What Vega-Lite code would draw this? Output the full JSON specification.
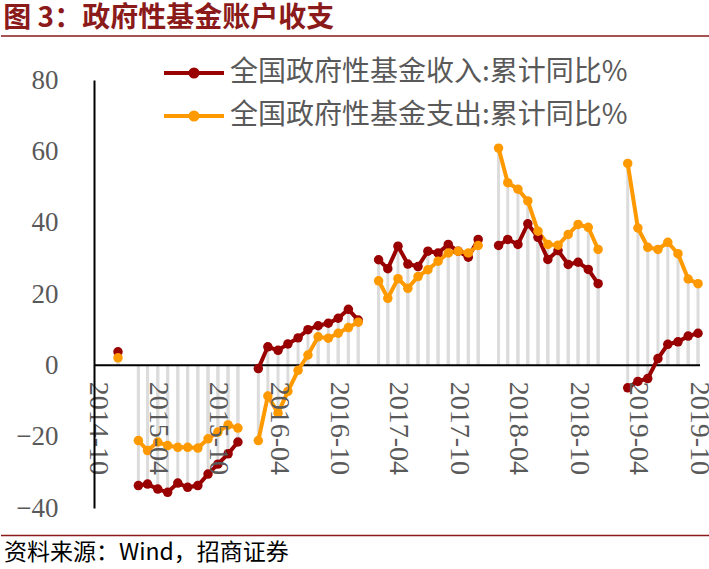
{
  "$schema": "https://vega.github.io/schema/vega-lite/v6.json",
  "padding": {"left": 0, "top": 5, "right": 0, "bottom": 0},
  "autosize": {"type": "pad"},
  "background": "white",
  "title": {"text": "图 3：政府性基金账户收支", "anchor": "start", "frame": "bounds", "font": "Noto Sans CJK SC", "fontSize": 28, "fontWeight": "bold", "color": "#8B1A1A", "offset": 2, "dx": 3},
  "datasets": {
    "fund": [
      {"month": "2014-12-01", "全国政府性基金收入:累计同比%": 3.8, "全国政府性基金支出:累计同比%": 2.1},
      {"month": "2015-01-01", "全国政府性基金收入:累计同比%": null, "全国政府性基金支出:累计同比%": null},
      {"month": "2015-02-01", "全国政府性基金收入:累计同比%": -33.7, "全国政府性基金支出:累计同比%": -21.1},
      {"month": "2015-03-01", "全国政府性基金收入:累计同比%": -33.3, "全国政府性基金支出:累计同比%": -23.9},
      {"month": "2015-04-01", "全国政府性基金收入:累计同比%": -34.7, "全国政府性基金支出:累计同比%": -21.5},
      {"month": "2015-05-01", "全国政府性基金收入:累计同比%": -35.6, "全国政府性基金支出:累计同比%": -22.5},
      {"month": "2015-06-01", "全国政府性基金收入:累计同比%": -33.0, "全国政府性基金支出:累计同比%": -23.0},
      {"month": "2015-07-01", "全国政府性基金收入:累计同比%": -34.2, "全国政府性基金支出:累计同比%": -23.0},
      {"month": "2015-08-01", "全国政府性基金收入:累计同比%": -33.7, "全国政府性基金支出:累计同比%": -23.2},
      {"month": "2015-09-01", "全国政府性基金收入:累计同比%": -30.5, "全国政府性基金支出:累计同比%": -20.6},
      {"month": "2015-10-01", "全国政府性基金收入:累计同比%": -27.7, "全国政府性基金支出:累计同比%": -18.7},
      {"month": "2015-11-01", "全国政府性基金收入:累计同比%": -24.8, "全国政府性基金支出:累计同比%": -16.7},
      {"month": "2015-12-01", "全国政府性基金收入:累计同比%": -21.5, "全国政府性基金支出:累计同比%": -17.6},
      {"month": "2016-01-01", "全国政府性基金收入:累计同比%": null, "全国政府性基金支出:累计同比%": null},
      {"month": "2016-02-01", "全国政府性基金收入:累计同比%": -0.9, "全国政府性基金支出:累计同比%": -21.1},
      {"month": "2016-03-01", "全国政府性基金收入:累计同比%": 5.2, "全国政府性基金支出:累计同比%": -8.6},
      {"month": "2016-04-01", "全国政府性基金收入:累计同比%": 4.2, "全国政府性基金支出:累计同比%": -13.4},
      {"month": "2016-05-01", "全国政府性基金收入:累计同比%": 6.0, "全国政府性基金支出:累计同比%": -7.3},
      {"month": "2016-06-01", "全国政府性基金收入:累计同比%": 7.7, "全国政府性基金支出:累计同比%": -1.4},
      {"month": "2016-07-01", "全国政府性基金收入:累计同比%": 10.0, "全国政府性基金支出:累计同比%": 2.9},
      {"month": "2016-08-01", "全国政府性基金收入:累计同比%": 11.1, "全国政府性基金支出:累计同比%": 8.0},
      {"month": "2016-09-01", "全国政府性基金收入:累计同比%": 11.8, "全国政府性基金支出:累计同比%": 7.6},
      {"month": "2016-10-01", "全国政府性基金收入:累计同比%": 13.2, "全国政府性基金支出:累计同比%": 9.0},
      {"month": "2016-11-01", "全国政府性基金收入:累计同比%": 15.7, "全国政府性基金支出:累计同比%": 10.6},
      {"month": "2016-12-01", "全国政府性基金收入:累计同比%": 12.7, "全国政府性基金支出:累计同比%": 12.1},
      {"month": "2017-01-01", "全国政府性基金收入:累计同比%": null, "全国政府性基金支出:累计同比%": null},
      {"month": "2017-02-01", "全国政府性基金收入:累计同比%": 29.6, "全国政府性基金支出:累计同比%": 23.7},
      {"month": "2017-03-01", "全国政府性基金收入:累计同比%": 27.1, "全国政府性基金支出:累计同比%": 18.8},
      {"month": "2017-04-01", "全国政府性基金收入:累计同比%": 33.4, "全国政府性基金支出:累计同比%": 24.3},
      {"month": "2017-05-01", "全国政府性基金收入:累计同比%": 28.4, "全国政府性基金支出:累计同比%": 21.6},
      {"month": "2017-06-01", "全国政府性基金收入:累计同比%": 27.7, "全国政府性基金支出:累计同比%": 24.9},
      {"month": "2017-07-01", "全国政府性基金收入:累计同比%": 32.0, "全国政府性基金支出:累计同比%": 26.8},
      {"month": "2017-08-01", "全国政府性基金收入:累计同比%": 31.5, "全国政府性基金支出:累计同比%": 29.2},
      {"month": "2017-09-01", "全国政府性基金收入:累计同比%": 33.9, "全国政府性基金支出:累计同比%": 31.5},
      {"month": "2017-10-01", "全国政府性基金收入:累计同比%": 32.0, "全国政府性基金支出:累计同比%": 32.0},
      {"month": "2017-11-01", "全国政府性基金收入:累计同比%": 30.3, "全国政府性基金支出:累计同比%": 31.5},
      {"month": "2017-12-01", "全国政府性基金收入:累计同比%": 35.3, "全国政府性基金支出:累计同比%": 33.6},
      {"month": "2018-01-01", "全国政府性基金收入:累计同比%": null, "全国政府性基金支出:累计同比%": null},
      {"month": "2018-02-01", "全国政府性基金收入:累计同比%": 33.6, "全国政府性基金支出:累计同比%": 60.9},
      {"month": "2018-03-01", "全国政府性基金收入:累计同比%": 35.3, "全国政府性基金支出:累计同比%": 51.2},
      {"month": "2018-04-01", "全国政府性基金收入:累计同比%": 33.9, "全国政府性基金支出:累计同比%": 49.4},
      {"month": "2018-05-01", "全国政府性基金收入:累计同比%": 39.7, "全国政府性基金支出:累计同比%": 46.1},
      {"month": "2018-06-01", "全国政府性基金收入:累计同比%": 35.9, "全国政府性基金支出:累计同比%": 37.6},
      {"month": "2018-07-01", "全国政府性基金收入:累计同比%": 29.7, "全国政府性基金支出:累计同比%": 33.9},
      {"month": "2018-08-01", "全国政府性基金收入:累计同比%": 32.2, "全国政府性基金支出:累计同比%": 33.7},
      {"month": "2018-09-01", "全国政府性基金收入:累计同比%": 28.3, "全国政府性基金支出:累计同比%": 36.7},
      {"month": "2018-10-01", "全国政府性基金收入:累计同比%": 28.9, "全国政府性基金支出:累计同比%": 39.5},
      {"month": "2018-11-01", "全国政府性基金收入:累计同比%": 26.9, "全国政府性基金支出:累计同比%": 38.7},
      {"month": "2018-12-01", "全国政府性基金收入:累计同比%": 22.9, "全国政府性基金支出:累计同比%": 32.5},
      {"month": "2019-01-01", "全国政府性基金收入:累计同比%": null, "全国政府性基金支出:累计同比%": null},
      {"month": "2019-02-01", "全国政府性基金收入:累计同比%": null, "全国政府性基金支出:累计同比%": null},
      {"month": "2019-03-01", "全国政府性基金收入:累计同比%": -6.3, "全国政府性基金支出:累计同比%": 56.6},
      {"month": "2019-04-01", "全国政府性基金收入:累计同比%": -4.5, "全国政府性基金支出:累计同比%": 38.5},
      {"month": "2019-05-01", "全国政府性基金收入:累计同比%": -3.7, "全国政府性基金支出:累计同比%": 33.1},
      {"month": "2019-06-01", "全国政府性基金收入:累计同比%": 1.9, "全国政府性基金支出:累计同比%": 32.5},
      {"month": "2019-07-01", "全国政府性基金收入:累计同比%": 5.9, "全国政府性基金支出:累计同比%": 34.5},
      {"month": "2019-08-01", "全国政府性基金收入:累计同比%": 6.6, "全国政府性基金支出:累计同比%": 31.3},
      {"month": "2019-09-01", "全国政府性基金收入:累计同比%": 8.2, "全国政府性基金支出:累计同比%": 24.2},
      {"month": "2019-10-01", "全国政府性基金收入:累计同比%": 9.0, "全国政府性基金支出:累计同比%": 22.9}
    ]
  },
  "spacing": 0,
  "resolve": {"scale": {"x": "independent", "y": "independent"}},
  "vconcat": [
    {
      "width": 709,
      "height": 29.5,
      "data": {"values": [{"v": 1}]},
      "mark": {"type": "rule", "color": "#8B1A1A", "strokeWidth": 1.5},
      "encoding": {"y": {"field": "v", "type": "quantitative", "scale": {"domain": [0, 1]}, "axis": null}}
    },
    {
      "spacing": 0,
      "bounds": "flush",
      "hconcat": [
        {
          "width": 93,
          "height": 428,
          "data": {"values": []},
          "mark": "point"
        },
        {
          "width": 606,
          "height": 428,
          "encoding": {
            "y": {
              "field": "value",
              "type": "quantitative",
              "scale": {"domain": [-40, 80], "nice": false, "zero": false},
              "axis": {"values": [-40, -20, 0, 20, 40, 60, 80], "title": null, "grid": false, "ticks": false, "tickSize": 0, "labelPadding": 36, "labelFont": "Liberation Serif", "labelFontSize": 27, "labelColor": "#595959", "domainColor": "#000000", "domainWidth": 2, "zindex": 1}
            }
          },
          "layer": [
            {
              "data": {"name": "fund"},
              "transform": [{"fold": ["全国政府性基金收入:累计同比%", "全国政府性基金支出:累计同比%"], "as": ["series", "value"]}],
              "mark": {"type": "rule", "color": "#DCDCDC", "strokeWidth": 3},
              "encoding": {
                "x": {
                  "field": "month", "type": "temporal",
                  "scale": {"type": "utc", "domain": [{"year": 2014, "month": 9, "date": 19, "utc": true}, {"year": 2019, "month": 10, "date": 7, "utc": true}]},
                  "axis": {
                    "values": [
                      {"year": 2014, "month": 10, "date": 1, "utc": true},
                      {"year": 2015, "month": 4, "date": 1, "utc": true},
                      {"year": 2015, "month": 10, "date": 1, "utc": true},
                      {"year": 2016, "month": 4, "date": 1, "utc": true},
                      {"year": 2016, "month": 10, "date": 1, "utc": true},
                      {"year": 2017, "month": 4, "date": 1, "utc": true},
                      {"year": 2017, "month": 10, "date": 1, "utc": true},
                      {"year": 2018, "month": 4, "date": 1, "utc": true},
                      {"year": 2018, "month": 10, "date": 1, "utc": true},
                      {"year": 2019, "month": 4, "date": 1, "utc": true},
                      {"year": 2019, "month": 10, "date": 1, "utc": true}
                    ],
                    "labelExpr": "utcFormat(datum.value, '%Y-%m')",
                    "title": null, "grid": false, "ticks": false, "tickSize": 0, "domain": false,
                    "labelAngle": 90, "labelPadding": 16, "labelFont": "Liberation Serif", "labelFontSize": 28, "labelColor": "#595959",
                    "labelOverlap": false, "labelFlush": false, "labelBound": false,
                    "offset": -142.7, "zindex": 1
                  }
                },
                "y2": {"datum": 0}
              }
            },
            {
              "data": {"values": [{"value": 0}]},
              "mark": {"type": "rule", "color": "#000000", "strokeWidth": 2},
              "encoding": {}
            },
            {
              "data": {"name": "fund"},
              "transform": [{"fold": ["全国政府性基金收入:累计同比%", "全国政府性基金支出:累计同比%"], "as": ["series", "value"]}],
              "mark": {"type": "line", "strokeWidth": 4, "invalid": "break-paths-filter-domains"},
              "encoding": {
                "x": {
                  "field": "month", "type": "temporal",
                  "scale": {"type": "utc", "domain": [{"year": 2014, "month": 9, "date": 19, "utc": true}, {"year": 2019, "month": 10, "date": 7, "utc": true}]},
                  "axis": {
                    "values": [
                      {"year": 2014, "month": 10, "date": 1, "utc": true},
                      {"year": 2015, "month": 4, "date": 1, "utc": true},
                      {"year": 2015, "month": 10, "date": 1, "utc": true},
                      {"year": 2016, "month": 4, "date": 1, "utc": true},
                      {"year": 2016, "month": 10, "date": 1, "utc": true},
                      {"year": 2017, "month": 4, "date": 1, "utc": true},
                      {"year": 2017, "month": 10, "date": 1, "utc": true},
                      {"year": 2018, "month": 4, "date": 1, "utc": true},
                      {"year": 2018, "month": 10, "date": 1, "utc": true},
                      {"year": 2019, "month": 4, "date": 1, "utc": true},
                      {"year": 2019, "month": 10, "date": 1, "utc": true}
                    ],
                    "labelExpr": "utcFormat(datum.value, '%Y-%m')",
                    "title": null, "grid": false, "ticks": false, "tickSize": 0, "domain": false,
                    "labelAngle": 90, "labelPadding": 16, "labelFont": "Liberation Serif", "labelFontSize": 28, "labelColor": "#595959",
                    "labelOverlap": false, "labelFlush": false, "labelBound": false,
                    "offset": -142.7, "zindex": 1
                  }
                },
                "color": {
                  "field": "series", "type": "nominal",
                  "scale": {"domain": ["全国政府性基金收入:累计同比%", "全国政府性基金支出:累计同比%"], "range": ["#990000", "#FF9900"]},
                  "legend": {
                    "orient": "none", "legendX": 179, "legendY": 23, "title": null, "padding": 0, "direction": "vertical",
                    "symbolType": "M-6,0L6,0M0.7,0A0.7,0.7,0,1,1,-0.7,0A0.7,0.7,0,1,1,0.7,0Z",
                    "symbolSize": 100, "symbolStrokeWidth": 4, "symbolOpacity": 1,
                    "labelFont": "Noto Sans CJK SC", "labelFontSize": 28, "labelColor": "#595959", "labelOffset": 22, "labelLimit": 0,
                    "rowPadding": 15,
                    "encode": {"symbols": {"update": {"fill": {"scale": "color", "field": "value"}, "stroke": {"scale": "color", "field": "value"}}}}
                  }
                }
              }
            },
            {
              "data": {"name": "fund"},
              "transform": [{"fold": ["全国政府性基金收入:累计同比%", "全国政府性基金支出:累计同比%"], "as": ["series", "value"]}],
              "mark": {"type": "point", "filled": true, "size": 90, "opacity": 1},
              "encoding": {
                "x": {
                  "field": "month", "type": "temporal",
                  "scale": {"type": "utc", "domain": [{"year": 2014, "month": 9, "date": 19, "utc": true}, {"year": 2019, "month": 10, "date": 7, "utc": true}]},
                  "axis": {
                    "values": [
                      {"year": 2014, "month": 10, "date": 1, "utc": true},
                      {"year": 2015, "month": 4, "date": 1, "utc": true},
                      {"year": 2015, "month": 10, "date": 1, "utc": true},
                      {"year": 2016, "month": 4, "date": 1, "utc": true},
                      {"year": 2016, "month": 10, "date": 1, "utc": true},
                      {"year": 2017, "month": 4, "date": 1, "utc": true},
                      {"year": 2017, "month": 10, "date": 1, "utc": true},
                      {"year": 2018, "month": 4, "date": 1, "utc": true},
                      {"year": 2018, "month": 10, "date": 1, "utc": true},
                      {"year": 2019, "month": 4, "date": 1, "utc": true},
                      {"year": 2019, "month": 10, "date": 1, "utc": true}
                    ],
                    "labelExpr": "utcFormat(datum.value, '%Y-%m')",
                    "title": null, "grid": false, "ticks": false, "tickSize": 0, "domain": false,
                    "labelAngle": 90, "labelPadding": 16, "labelFont": "Liberation Serif", "labelFontSize": 28, "labelColor": "#595959",
                    "labelOverlap": false, "labelFlush": false, "labelBound": false,
                    "offset": -142.7, "zindex": 1
                  }
                },
                "color": {
                  "field": "series", "type": "nominal",
                  "scale": {"domain": ["全国政府性基金收入:累计同比%", "全国政府性基金支出:累计同比%"], "range": ["#990000", "#FF9900"]},
                  "legend": {
                    "orient": "none", "legendX": 179, "legendY": 23, "title": null, "padding": 0, "direction": "vertical",
                    "symbolType": "M-6,0L6,0M0.7,0A0.7,0.7,0,1,1,-0.7,0A0.7,0.7,0,1,1,0.7,0Z",
                    "symbolSize": 100, "symbolStrokeWidth": 4, "symbolOpacity": 1,
                    "labelFont": "Noto Sans CJK SC", "labelFontSize": 28, "labelColor": "#595959", "labelOffset": 22, "labelLimit": 0,
                    "rowPadding": 15,
                    "encode": {"symbols": {"update": {"fill": {"scale": "color", "field": "value"}, "stroke": {"scale": "color", "field": "value"}}}}
                  }
                }
              }
            }
          ]
        }
      ]
    },
    {
      "width": 709,
      "height": 14.5,
      "data": {"values": [{"v": 0}]},
      "mark": {"type": "rule", "color": "#8B1A1A", "strokeWidth": 1.5},
      "encoding": {"y": {"field": "v", "type": "quantitative", "scale": {"domain": [0, 1]}, "axis": null}},
      "title": {"text": "资料来源：Wind，招商证券", "orient": "bottom", "anchor": "start", "frame": "group", "font": "Noto Sans CJK SC", "fontSize": 23, "fontWeight": "normal", "color": "#000000", "offset": 6, "dx": 3}
    }
  ],
  "config": {"view": {"stroke": null}, "font": "Noto Sans CJK SC"}
}
